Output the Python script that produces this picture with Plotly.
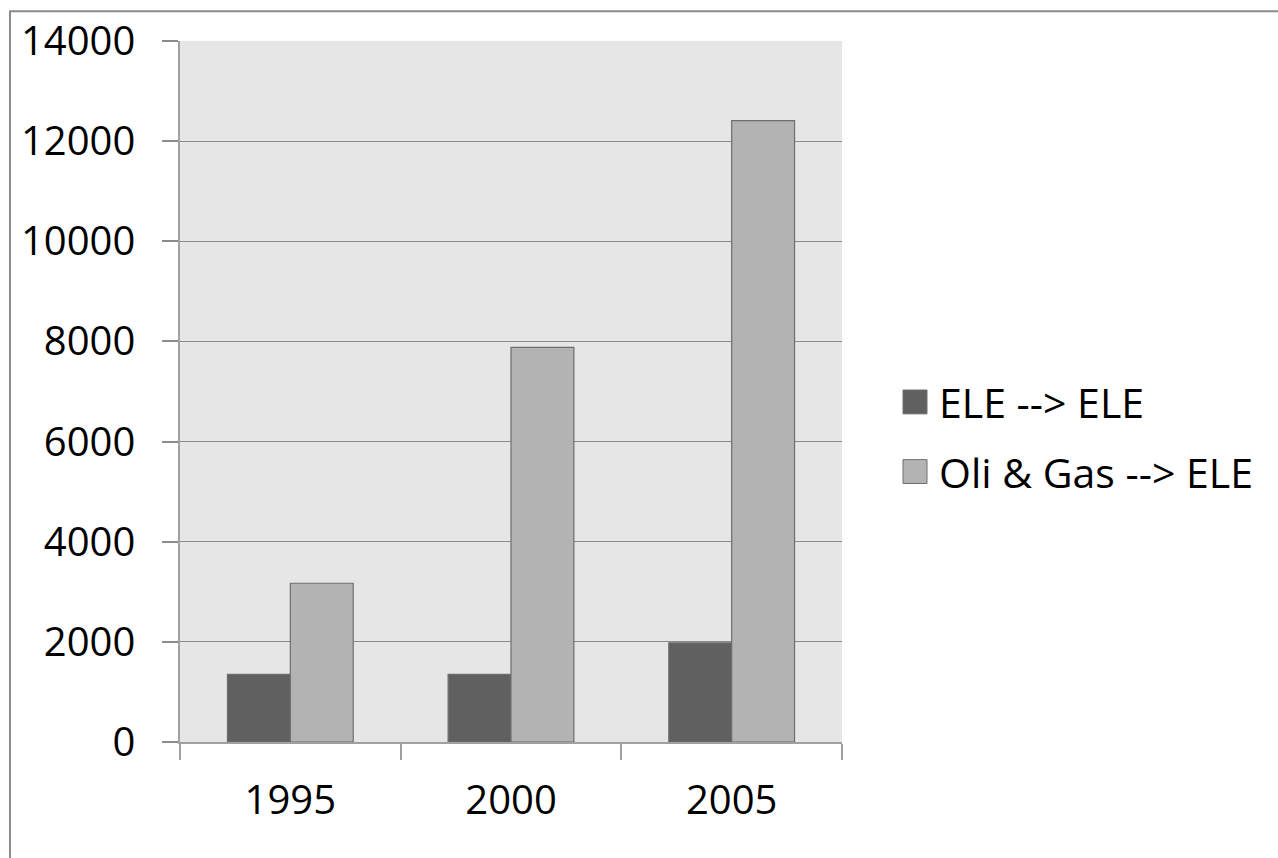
import plotly.graph_objects as go

# Chart data
years = ["1995", "2000", "2005"]
ele_to_ele = [1350, 1350, 1980]
oil_gas_to_ele = [3170, 7880, 12410]
series_names = ["ELE --> ELE", "Oli & Gas --> ELE"]
series_colors = ["#606060", "#b3b3b3"]
y_ticks = [0, 2000, 4000, 6000, 8000, 10000, 12000, 14000]

W, H = 1278, 858
L, R, T, B = 180, 436, 37, 116
FONT = "Open Sans"

fig = go.Figure()
for name, vals, col in zip(series_names, [ele_to_ele, oil_gas_to_ele], series_colors):
    fig.add_trace(go.Bar(
        x=years, y=vals, name=name, showlegend=False,
        marker=dict(color=col, line=dict(color="#6e6e6e", width=1.2)),
    ))

# Helpers to convert pixel positions into paper coordinates
pw, ph = W - L - R, H - T - B
def px(x):
    return (x - L) / pw
def py(y):
    return (H - B - y) / ph

shapes = [
    # outer chart frame
    dict(type="rect", xref="paper", yref="paper",
         x0=px(10), x1=px(1300), y0=py(880), y1=py(7),
         line=dict(color="#8c8c8c", width=2), fillcolor="rgba(0,0,0,0)", layer="below"),
]
annotations = []
legend_rows = [400, 470]
for name, col, yc in zip(series_names, series_colors, legend_rows):
    shapes.append(dict(type="rect", xref="paper", yref="paper",
                       x0=px(903), x1=px(927), y0=py(yc + 12), y1=py(yc - 12),
                       fillcolor=col, line=dict(color="#6e6e6e", width=1)))
    annotations.append(dict(xref="paper", yref="paper", x=px(937), y=py(yc),
                            xanchor="left", yanchor="middle", showarrow=False,
                            text=name, font=dict(family=FONT, size=41, color="black")))

fig.update_layout(
    width=W, height=H,
    margin=dict(l=L, r=R, t=T, b=B, pad=0),
    paper_bgcolor="white", plot_bgcolor="#e6e6e6",
    barmode="group", bargap=0.43, bargroupgap=0,
    font=dict(family=FONT, size=40, color="black"),
    shapes=shapes, annotations=annotations,
    xaxis=dict(
        showline=True, linecolor="#a0a0a0", linewidth=1.5,
        ticks="outside", tickson="boundaries", ticklen=16, tickcolor="#a0a0a0",
        tickwidth=1.5, showgrid=False, ticklabelstandoff=22,
        tickfont=dict(family=FONT, size=40, color="black"),
    ),
    yaxis=dict(
        range=[0, 14000], tickvals=y_ticks, ticktext=[str(v) for v in y_ticks],
        showline=True, linecolor="#a0a0a0", linewidth=1.5,
        ticks="outside", ticklen=16, tickcolor="#8c8c8c", tickwidth=1.5,
        showgrid=True, gridcolor="#8c8c8c", gridwidth=1.3, zeroline=False,
        ticklabelstandoff=19,
        tickfont=dict(family=FONT, size=40, color="black"),
    ),
)

fig.write_html("out.html")
